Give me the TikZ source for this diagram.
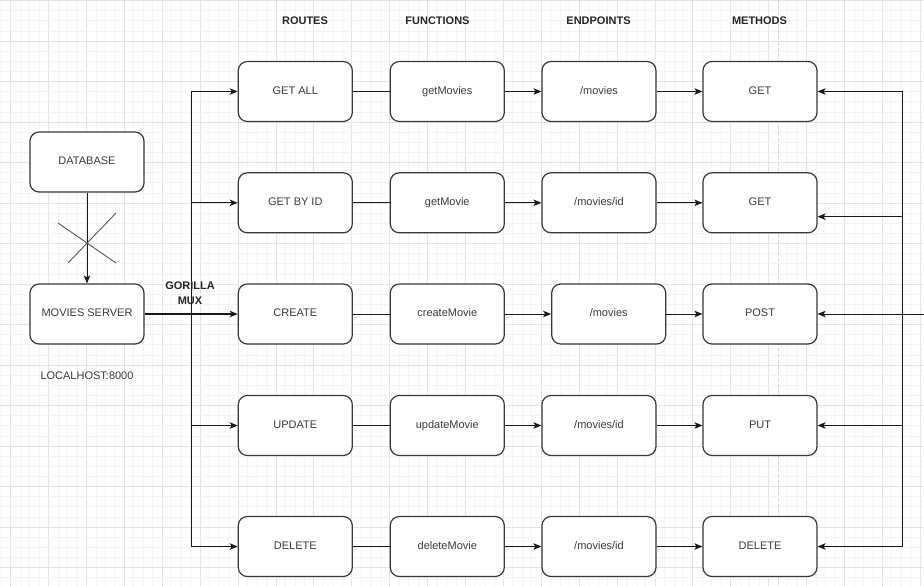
\documentclass[tikz,border=0pt]{standalone}
\usepackage{fontspec}
\setmainfont{Liberation Sans}
\usetikzlibrary{arrows.meta}
\definecolor{boxline}{HTML}{3A3A3A}
\definecolor{txt}{HTML}{3C3C3C}
\definecolor{wire}{HTML}{1A1A1A}
\definecolor{gridminor}{HTML}{F4F4F4}
\definecolor{gridmajor}{HTML}{E4E4E4}
\begin{document}
\begin{tikzpicture}[x=1pt,y=-1pt,
  box/.style={draw=boxline, line width=1.2pt, rounded corners=9pt, fill=white,
    minimum width=114pt, minimum height=60pt, inner sep=0pt, text=txt,
    text height=8pt, text depth=2.2pt,
    font=\fontsize{11}{13}\selectfont},
  head/.style={font=\bfseries\fontsize{11}{14.7}\selectfont, text=black!85, align=center},
  plain/.style={text=txt, font=\fontsize{11}{13}\selectfont},
  link/.style={draw=wire, line width=1pt},
  arr/.style={link, -{Stealth[length=8pt,width=6.5pt,inset=2pt]}},
  cross/.style={draw=black!65, line width=0.9pt},
]
% canvas and background grid
\fill[white] (0,0) rectangle (924,586);
\useasboundingbox (0,0) rectangle (924,586);
\foreach \k in {-1,...,97}{
  \pgfmathsetmacro{\gx}{10.6+\k*9.475}
  \pgfmathtruncatemacro{\m}{mod(\k+4,4)}
  \ifnum\m=0
    \draw[gridmajor, line width=0.8pt] (\gx,0) -- (\gx,586);
  \else
    \draw[gridminor, line width=0.6pt] (\gx,0) -- (\gx,586);
  \fi
}
\foreach \k in {0,...,58}{
  \pgfmathsetmacro{\gy}{0.5+\k*10.125}
  \pgfmathtruncatemacro{\m}{mod(\k,4)}
  \ifnum\m=0
    \draw[gridmajor, line width=0.8pt] (0,\gy) -- (924,\gy);
  \else
    \draw[gridminor, line width=0.6pt] (0,\gy) -- (924,\gy);
  \fi
}
% alignment guide through the methods column
\draw[gray!35, dashed, line width=0.6pt] (778,0) -- (778,586);

% column headers
\node[head] (hr) at (305,20.7) {ROUTES};
\node[head] (hf) at (437.5,20.7) {FUNCTIONS};
\node[head] (he) at (598.5,20.7) {ENDPOINTS};
\node[head] (hm) at (759.5,20.7) {METHODS};

% server side
\node[box] (db) at (87,162) {DATABASE};
\node[box] (srv) at (87,314) {MOVIES SERVER};
\node[plain] (lh) at (87,375.5) {LOCALHOST:8000};

% routes
\node[box] (r1) at (295.3,91.5) {GET ALL};
\node[box] (r2) at (295.3,202.8) {GET BY ID};
\node[box] (r3) at (295.3,314) {CREATE};
\node[box] (r4) at (295.3,425.5) {UPDATE};
\node[box] (r5) at (295.3,546.5) {DELETE};

% functions
\node[box] (f1) at (447.3,91.5) {getMovies};
\node[box] (f2) at (447.3,202.8) {getMovie};
\node[box] (f3) at (447.3,314) {createMovie};
\node[box] (f4) at (447.3,425.5) {updateMovie};
\node[box] (f5) at (447.3,546.5) {deleteMovie};

% endpoints
\node[box] (e1) at (599,91.5) {/movies};
\node[box] (e2) at (599,202.8) {/movies/id};
\node[box] (e3) at (608.7,314) {/movies};
\node[box] (e4) at (599,425.5) {/movies/id};
\node[box] (e5) at (599,546.5) {/movies/id};

% methods
\node[box] (m1) at (760,91.5) {GET};
\node[box] (m2) at (760,202.8) {GET};
\node[box] (m3) at (760,314) {POST};
\node[box] (m4) at (760,425.5) {PUT};
\node[box] (m5) at (760,546.5) {DELETE};

% database link, crossed out
\draw[arr] (db.south) -- (srv.north);
\coordinate (xa1) at (58,223);
\coordinate (xa2) at (116,263);
\coordinate (xb1) at (68,263);
\coordinate (xb2) at (116,213);
\draw[cross] (xa1) -- (xa2);
\draw[cross] (xb1) -- (xb2);

% router trunk
\coordinate (t1) at (191.7,91.5);
\coordinate (t5) at (191.7,546.5);
\draw[link] (t1) -- (t5);
\draw[arr, line width=1.8pt] (srv.east) -- (r3.west);
\node[head] (mux) at (190,293.3) {GORILLA\\MUX};
\draw[arr] (t1) -- (r1.west);
\draw[arr] (r2.west -| t1) -- (r2.west);
\draw[arr] (r4.west -| t1) -- (r4.west);
\draw[arr] (t5) -- (r5.west);

% route -> function -> endpoint -> method
\foreach \i in {1,...,5}{
  \draw[link] (r\i.east) -- (f\i.west);
  \draw[arr] (f\i.east) -- (e\i.west);
  \draw[arr] (e\i.east) -- (m\i.west);
}

% return bus on the right
\coordinate (b1) at (902.7,91.5);
\coordinate (b2) at (902.7,216.7);
\coordinate (b3) at (902.7,314);
\coordinate (b4) at (902.7,425.5);
\coordinate (b5) at (902.7,546.5);
\coordinate (bin) at (924,314);
\draw[link] (b1) -- (b5);
\draw[link] (bin) -- (b3);
\draw[arr] (b1) -- (m1.east);
\draw[arr] (b2) -- (b2 -| m2.east);
\draw[arr] (b3) -- (m3.east);
\draw[arr] (b4) -- (m4.east);
\draw[arr] (b5) -- (m5.east);
\end{tikzpicture}
\end{document}
